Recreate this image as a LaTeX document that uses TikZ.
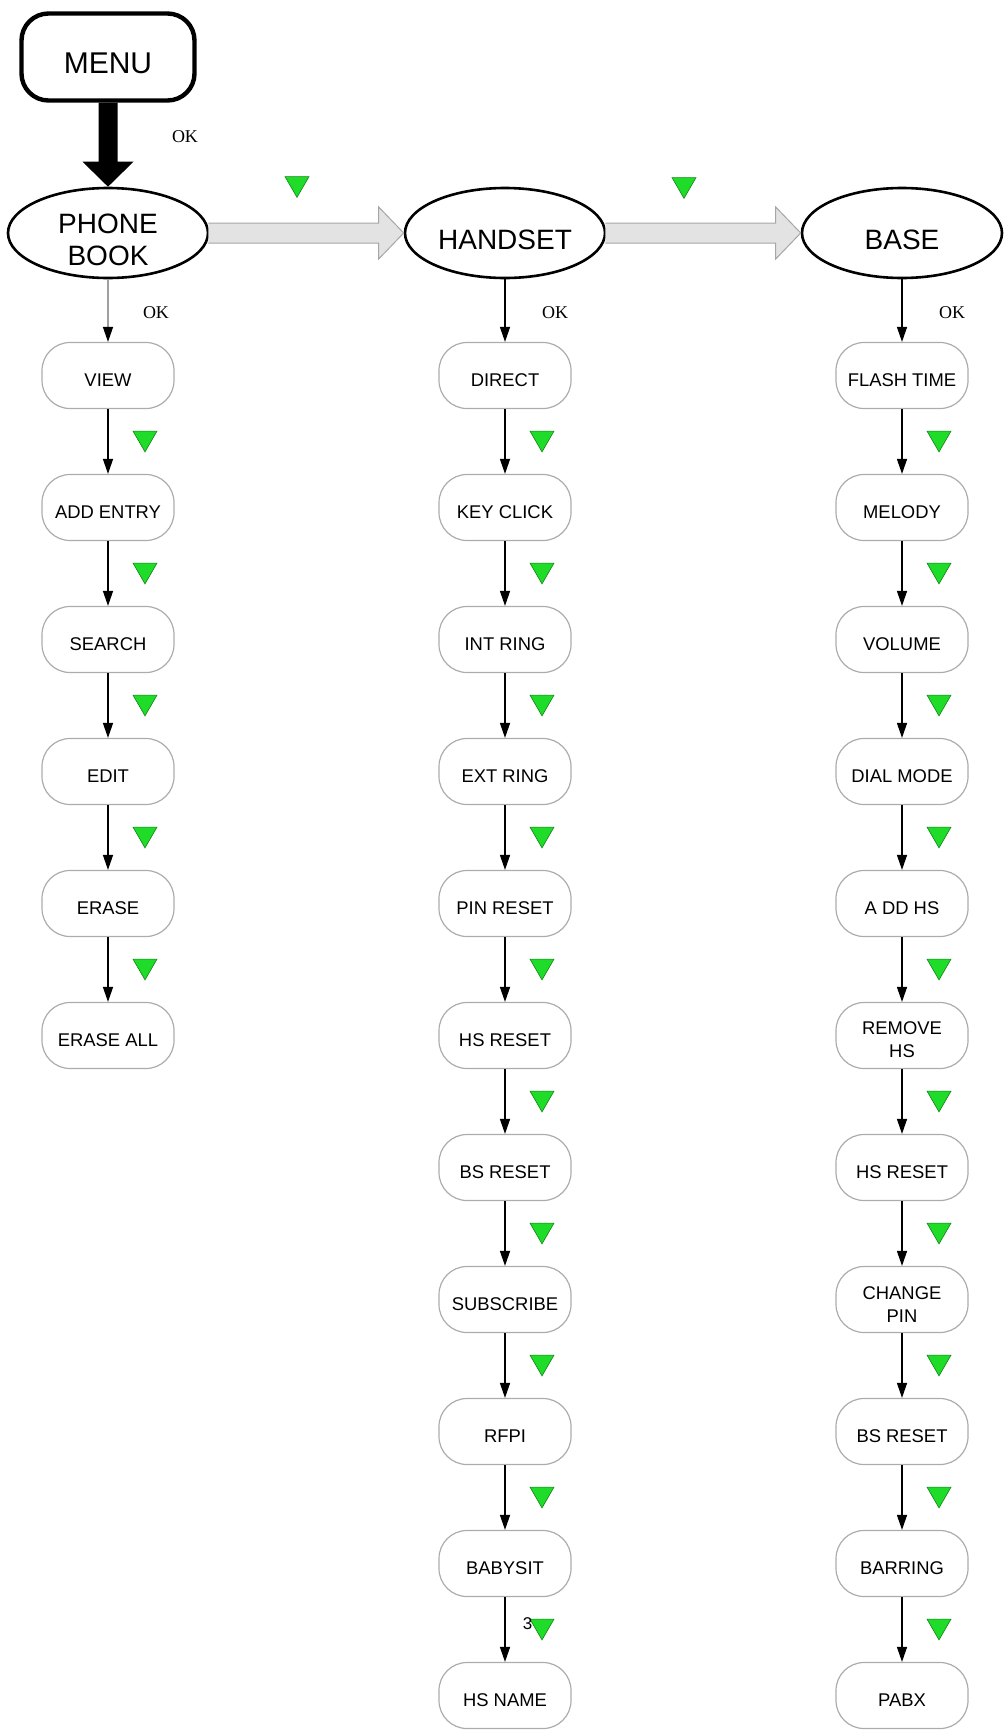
\documentclass[tikz,border=0pt]{standalone}
\usepackage{fontspec}
\setmainfont{Liberation Sans}
\newfontfamily\okfont{Liberation Serif}
\usetikzlibrary{arrows.meta,calc,shapes.geometric}

% text sits a little below the middle of its shape
\newcommand{\lowtxt}[1]{\raisebox{-2.3pt}[\height][\depth]{#1}}
\newcommand{\lowbig}[1]{\raisebox{-3.4pt}[\height][\depth]{#1}}

\definecolor{arrowgreen}{RGB}{30,220,40}
\tikzset{
  menubox/.style={draw,line width=2.2pt,rounded corners=13.5pt,minimum width=86.5pt,minimum height=43.5pt,font=\fontsize{15}{17}\selectfont},
  topnode/.style={draw,ellipse,line width=1.3pt,minimum width=100pt,minimum height=45pt,inner sep=0pt,align=center,font=\fontsize{14}{16}\selectfont},
  item/.style={draw=gray!65,line width=0.6pt,rounded corners=14pt,minimum width=66pt,minimum height=33pt,inner sep=0pt,align=center,font=\fontsize{9.2}{11.5}\selectfont},
  link/.style={line width=0.75pt,-{Triangle[width=5pt,length=7.5pt,black]}},
  fatarrow/.style={fill=gray!22,draw=gray!70,line width=0.5pt},
  grn/.style={regular polygon,regular polygon sides=3,shape border rotate=180,minimum size=13.9pt,inner sep=0pt,fill=arrowgreen,draw=arrowgreen!60!black,line width=0.3pt},
  oklabel/.style={text=black,font=\okfont\fontsize{9}{10}\selectfont},
}

\begin{document}
\begin{tikzpicture}[x=0.5pt,y=-0.5pt]
\useasboundingbox (0,0) rectangle (1006,1734);

% top row
\node[menubox] (menu) at (108,57) {\lowbig{MENU}};
\node[topnode] (pb) at (108,233) {\lowbig{PHONE}\\\lowbig{BOOK}};
\node[topnode] (hs) at (505,233) {\lowbig{HANDSET}};
\node[topnode] (bs) at (902,233) {\lowbig{BASE}};

% phone book entries
\node[item] (pb1) at (108,375.5) {\lowtxt{VIEW}};
\node[item] (pb2) at (108,507.5) {\lowtxt{ADD ENTRY}};
\node[item] (pb3) at (108,639.5) {\lowtxt{SEARCH}};
\node[item] (pb4) at (108,771.5) {\lowtxt{EDIT}};
\node[item] (pb5) at (108,903.5) {\lowtxt{ERASE}};
\node[item] (pb6) at (108,1035.5) {\lowtxt{ERASE ALL}};

% handset entries
\node[item] (hs1) at (505,375.5) {\lowtxt{DIRECT}};
\node[item] (hs2) at (505,507.5) {\lowtxt{KEY CLICK}};
\node[item] (hs3) at (505,639.5) {\lowtxt{INT RING}};
\node[item] (hs4) at (505,771.5) {\lowtxt{EXT RING}};
\node[item] (hs5) at (505,903.5) {\lowtxt{PIN RESET}};
\node[item] (hs6) at (505,1035.5) {\lowtxt{HS RESET}};
\node[item] (hs7) at (505,1167.5) {\lowtxt{BS RESET}};
\node[item] (hs8) at (505,1299.5) {\lowtxt{SUBSCRIBE}};
\node[item] (hs9) at (505,1431.5) {\lowtxt{RFPI}};
\node[item] (hs10) at (505,1563.5) {\lowtxt{BABYSIT}};
\node[item] (hs11) at (505,1695.5) {\lowtxt{HS NAME}};

% base entries
\node[item] (bs1) at (902,375.5) {\lowtxt{FLASH TIME}};
\node[item] (bs2) at (902,507.5) {\lowtxt{MELODY}};
\node[item] (bs3) at (902,639.5) {\lowtxt{VOLUME}};
\node[item] (bs4) at (902,771.5) {\lowtxt{DIAL MODE}};
\node[item] (bs5) at (902,903.5) {\lowtxt{A DD HS}};
\node[item] (bs6) at (902,1035.5) {\lowtxt{REMOVE}\\\lowtxt{HS}};
\node[item] (bs7) at (902,1167.5) {\lowtxt{HS RESET}};
\node[item] (bs8) at (902,1299.5) {\lowtxt{CHANGE}\\\lowtxt{PIN}};
\node[item] (bs9) at (902,1431.5) {\lowtxt{BS RESET}};
\node[item] (bs10) at (902,1563.5) {\lowtxt{BARRING}};
\node[item] (bs11) at (902,1695.5) {\lowtxt{PABX}};

% big arrows
\fill ($(menu.south)+(-9.5,0)$) -- ($(pb.north)+(-9.5,-25)$) -- ($(pb.north)+(-25.5,-25)$) -- (pb.north) -- ($(pb.north)+(25.5,-25)$) -- ($(pb.north)+(9.5,-25)$) -- ($(menu.south)+(9.5,0)$) -- cycle;
\node[oklabel] (ok0) at (185,137) {OK};
\filldraw[fatarrow] ($(pb.east)+(-1,-10)$) -- ($(hs.west)+(-25,-10)$) -- ($(hs.west)+(-25,-26)$) -- (hs.west) -- ($(hs.west)+(-25,26)$) -- ($(hs.west)+(-25,10)$) -- ($(pb.east)+(-1,10)$);
\filldraw[fatarrow] ($(hs.east)+(-1,-10)$) -- ($(bs.west)+(-25,-10)$) -- ($(bs.west)+(-25,-26)$) -- (bs.west) -- ($(bs.west)+(-25,26)$) -- ($(bs.west)+(-25,10)$) -- ($(hs.east)+(-1,10)$);
\node[grn] (m1) at (297,183.5) {};
\node[grn] (m2) at (684,184.5) {};

% OK arrows
\draw[link,gray!75] (pb) -- (pb1) node[oklabel,midway,xshift=24pt,yshift=-1.25pt] {OK};
\draw[link] (hs) -- (hs1) node[oklabel,midway,xshift=25pt,yshift=-1.25pt] {OK};
\draw[link] (bs) -- (bs1) node[oklabel,midway,xshift=25pt,yshift=-1.25pt] {OK};

% phone book column
\draw[link] (pb1) -- (pb2) node[grn,midway,xshift=18.5pt,yshift=1.75pt] {};
\draw[link] (pb2) -- (pb3) node[grn,midway,xshift=18.5pt,yshift=1.75pt] {};
\draw[link] (pb3) -- (pb4) node[grn,midway,xshift=18.5pt,yshift=1.75pt] {};
\draw[link] (pb4) -- (pb5) node[grn,midway,xshift=18.5pt,yshift=1.75pt] {};
\draw[link] (pb5) -- (pb6) node[grn,midway,xshift=18.5pt,yshift=1.75pt] {};

% handset column
\draw[link] (hs1) -- (hs2) node[grn,midway,xshift=18.5pt,yshift=1.75pt] {};
\draw[link] (hs2) -- (hs3) node[grn,midway,xshift=18.5pt,yshift=1.75pt] {};
\draw[link] (hs3) -- (hs4) node[grn,midway,xshift=18.5pt,yshift=1.75pt] {};
\draw[link] (hs4) -- (hs5) node[grn,midway,xshift=18.5pt,yshift=1.75pt] {};
\draw[link] (hs5) -- (hs6) node[grn,midway,xshift=18.5pt,yshift=1.75pt] {};
\draw[link] (hs6) -- (hs7) node[grn,midway,xshift=18.5pt,yshift=1.75pt] {};
\draw[link] (hs7) -- (hs8) node[grn,midway,xshift=18.5pt,yshift=1.75pt] {};
\draw[link] (hs8) -- (hs9) node[grn,midway,xshift=18.5pt,yshift=1.75pt] {};
\draw[link] (hs9) -- (hs10) node[grn,midway,xshift=18.5pt,yshift=1.75pt] {};
\draw[link] (hs10) -- (hs11) node[grn,midway,xshift=18.5pt,yshift=1.75pt] {}
  node[midway,xshift=11.25pt,yshift=2.75pt,font=\fontsize{8.5}{9}\selectfont] {3};

% base column
\draw[link] (bs1) -- (bs2) node[grn,midway,xshift=18.5pt,yshift=1.75pt] {};
\draw[link] (bs2) -- (bs3) node[grn,midway,xshift=18.5pt,yshift=1.75pt] {};
\draw[link] (bs3) -- (bs4) node[grn,midway,xshift=18.5pt,yshift=1.75pt] {};
\draw[link] (bs4) -- (bs5) node[grn,midway,xshift=18.5pt,yshift=1.75pt] {};
\draw[link] (bs5) -- (bs6) node[grn,midway,xshift=18.5pt,yshift=1.75pt] {};
\draw[link] (bs6) -- (bs7) node[grn,midway,xshift=18.5pt,yshift=1.75pt] {};
\draw[link] (bs7) -- (bs8) node[grn,midway,xshift=18.5pt,yshift=1.75pt] {};
\draw[link] (bs8) -- (bs9) node[grn,midway,xshift=18.5pt,yshift=1.75pt] {};
\draw[link] (bs9) -- (bs10) node[grn,midway,xshift=18.5pt,yshift=1.75pt] {};
\draw[link] (bs10) -- (bs11) node[grn,midway,xshift=18.5pt,yshift=1.75pt] {};
\end{tikzpicture}
\end{document}
